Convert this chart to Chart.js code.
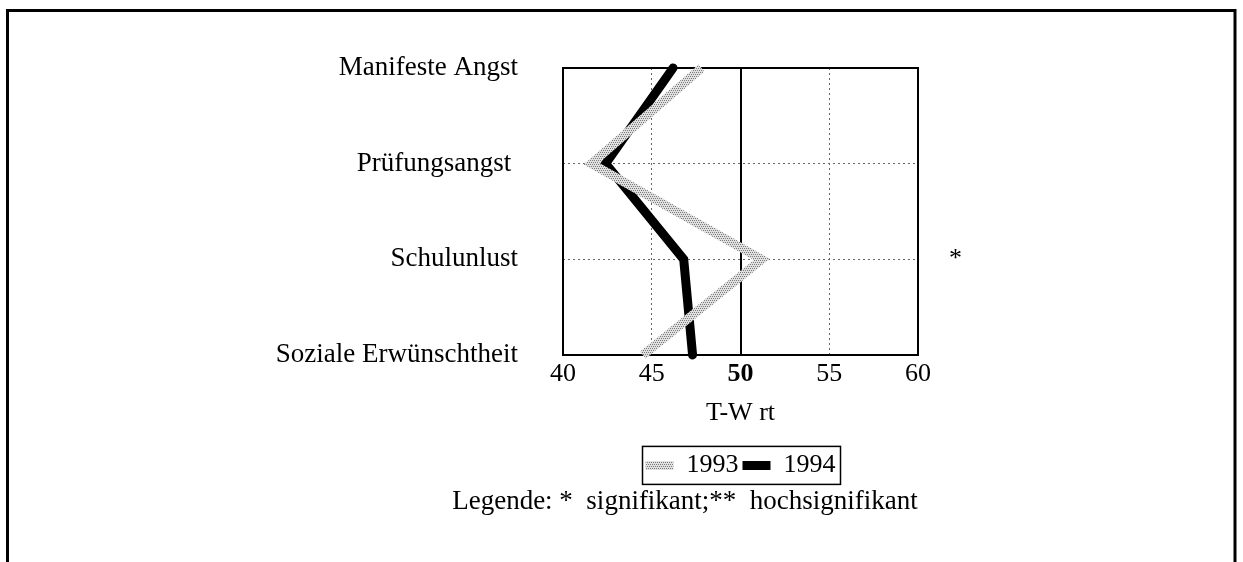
<!DOCTYPE html>
<html>
<head>
<meta charset="utf-8">
<script src="https://cdn.jsdelivr.net/npm/chart.js@4"></script>
<style>
  html, body { margin: 0; padding: 0; background: #fff; }
</style>
</head>
<body>
<canvas id="myChart" width="1243" height="562"></canvas>
<script>
const categories = ['Manifeste Angst', 'Prüfungsangst ', 'Schulunlust', 'Soziale Erwünschtheit'];
const values1993 = [47.8, 41.6, 51.2, 44.5];
const values1994 = [46.2, 42.4, 46.8, 47.3];
const significance = ['', '', '*', ''];
const xTicks = [40, 45, 50, 55, 60];
const note = 'Legende: *  signifikant;**  hochsignifikant';

Chart.defaults.font.family = '"Liberation Serif", "Times New Roman", serif';
Chart.defaults.font.size = 26;
Chart.defaults.color = '#000';

const canvas = document.getElementById('myChart');
const ctx = canvas.getContext('2d');

// grey stipple like the scanned 1993 line
function stipple() {
  const c = document.createElement('canvas');
  c.width = 4; c.height = 4;
  const g = c.getContext('2d');
  g.fillStyle = '#e0e0e0';
  g.fillRect(0, 0, 4, 4);
  g.fillStyle = '#7c7c7c';
  g.fillRect(0, 0, 1, 1);
  g.fillRect(2, 0, 1, 1);
  g.fillRect(1, 2, 1, 1);
  g.fillRect(3, 2, 1, 1);
  return ctx.createPattern(c, 'repeat');
}
const grey = stipple();

const frames = {
  id: 'frames',
  beforeDraw(chart) {
    const c = chart.ctx;
    c.save();
    c.strokeStyle = '#000';
    c.lineWidth = 3;
    c.beginPath();
    c.moveTo(7.5, 562);
    c.lineTo(7.5, 10.5);
    c.lineTo(1235, 10.5);
    c.lineTo(1235, 562);
    c.stroke();
    c.restore();
  },
  beforeDatasetsDraw(chart) {
    const a = chart.chartArea;
    const c = chart.ctx;
    c.save();
    c.strokeStyle = '#000';
    c.lineWidth = 2;
    c.strokeRect(a.left, a.top, a.right - a.left, a.bottom - a.top);
    c.restore();
  },
  afterDraw(chart) {
    // box around the legend entries
    const boxes = chart.legend.legendHitBoxes;
    let l = Infinity, r = -Infinity, t = Infinity, b = -Infinity;
    boxes.forEach(h => {
      l = Math.min(l, h.left);
      r = Math.max(r, h.left + h.width);
      t = Math.min(t, h.top);
      b = Math.max(b, h.top + h.height);
    });
    const c = chart.ctx;
    c.save();
    c.strokeStyle = '#000';
    c.lineWidth = 1.5;
    c.strokeRect(l - 3, t - 6, r - l + 8, b - t + 12);
    c.restore();
  }
};

new Chart(ctx, {
  type: 'line',
  data: {
    labels: categories,
    datasets: [{
      label: '1993',
      data: values1993,
      borderColor: grey,
      backgroundColor: grey,
      borderWidth: 9,
      borderCapStyle: 'butt',
      borderJoinStyle: 'miter',
      pointRadius: 0,
      clip: false
    }, {
      label: '1994',
      data: values1994,
      borderColor: '#000',
      backgroundColor: '#000',
      borderWidth: 9,
      borderCapStyle: 'round',
      borderJoinStyle: 'miter',
      pointRadius: 0,
      clip: false
    }]
  },
  options: {
    responsive: false,
    animation: false,
    indexAxis: 'y',
    layout: { padding: { left: 127, right: 0, top: 68, bottom: 46.6 } },
    scales: {
      x: {
        type: 'linear',
        min: 40,
        max: 60,
        afterBuildTicks: s => { s.ticks = xTicks.map(v => ({ value: v })); },
        border: {
          display: false,
          dash: c => (c.tick && c.tick.value === 50) ? [] : [2, 3]
        },
        grid: {
          drawTicks: false,
          color: c => (c.tick && c.tick.value === 50) ? '#000' : '#666',
          lineWidth: c => {
            const v = c.tick ? c.tick.value : 0;
            if (v === 40 || v === 60) return 0;
            return v === 50 ? 2 : 1;
          }
        },
        ticks: {
          padding: 4,
          font: c => ({ size: 26, weight: (c.tick && c.tick.value === 50) ? 'bold' : 'normal' })
        },
        title: {
          display: true,
          text: 'T-W rt',
          font: { size: 26 },
          padding: { top: 3, bottom: 20 }
        }
      },
      y: {
        type: 'category',
        afterFit: s => { s.width = 563 - 127; },
        border: { display: false, dash: [2, 3] },
        grid: {
          drawTicks: false,
          color: '#666',
          lineWidth: c => (c.index === 0 || c.index === categories.length - 1) ? 0 : 1
        },
        ticks: { padding: 45, autoSkip: false, font: { size: 27 } }
      },
      y2: {
        type: 'category',
        position: 'right',
        labels: significance,
        afterFit: s => { s.width = 325; },
        border: { display: false },
        grid: { display: false, drawTicks: false },
        ticks: { padding: 31, autoSkip: false, font: { size: 26 } }
      }
    },
    plugins: {
      legend: {
        position: 'bottom',
        fullSize: false,
        labels: {
          usePointStyle: true,
          pointStyle: 'line',
          pointStyleWidth: 28,
          padding: 4,
          font: { size: 26 }
        }
      },
      subtitle: {
        display: true,
        position: 'bottom',
        text: note,
        font: { size: 27, weight: 'normal', lineHeight: 1 },
        padding: 0
      },
      tooltip: { enabled: false }
    }
  },
  plugins: [frames]
});
</script>
</body>
</html>
